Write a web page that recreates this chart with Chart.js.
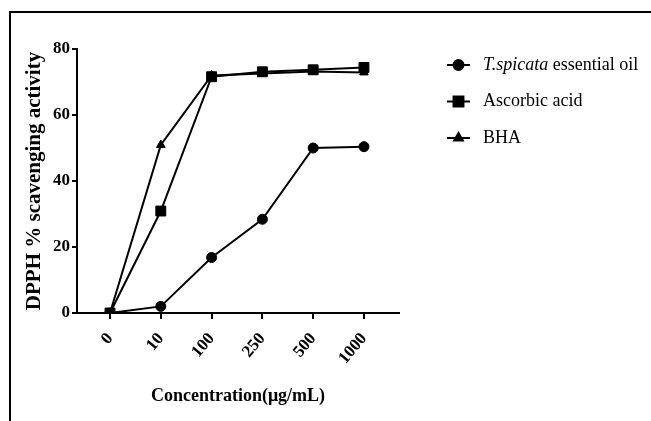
<!DOCTYPE html>
<html>
<head>
<meta charset="utf-8">
<script src="https://cdn.jsdelivr.net/npm/chart.js@4.4.1/dist/chart.umd.min.js"></script>
<style>
  body { margin: 0; background: #fff; }
  #wrap { position: relative; width: 651px; height: 421px; }
  #frame {
    position: absolute; left: 9px; top: 11px; right: 0; bottom: 0;
    border-top: 2px solid #000; border-left: 2px solid #000;
  }
  #chart { position: absolute; left: 0; top: 0; }
</style>
</head>
<body>
<div id="wrap">
  <div id="frame"></div>
  <canvas id="chart" width="651" height="421"></canvas>
</div>
<script>
// concentrations on the x axis (ug/mL)
const concentrations = ["0", "10", "100", "250", "500", "1000"];

// DPPH % scavenging activity
const spicataValues = [0, 2, 16.8, 28.4, 50, 50.4];
const ascorbicValues = [0, 30.9, 71.6, 73.1, 73.7, 74.4];
const bhaValues = [0, 50.9, 72, 72.6, 73.2, 72.9];

const seriesNames = ["T.spicata essential oil", "Ascorbic acid", "BHA"];
const italicParts = ["T.spicata", "", ""];
const yTicks = [0, 20, 40, 60, 80];

const serif = "'Liberation Serif', 'Times New Roman', serif";

function toPoints(values) {
  return values.map((v, i) => ({ x: i, y: v }));
}

function makeSet(label, values, style, radius) {
  return {
    label: label,
    data: toPoints(values),
    borderColor: "#000",
    backgroundColor: "#000",
    borderWidth: 2,
    pointStyle: style,
    pointRadius: radius,
    pointBorderWidth: 1,
    pointBackgroundColor: "#000",
    pointBorderColor: "#000",
    tension: 0,
  };
}

// legend drawn by hand so the species name can be italic
const sideLegend = {
  id: "sideLegend",
  afterDraw(chart) {
    const ctx = chart.ctx;
    const x0 = 447, x1 = 470, tx = 483;
    chart.data.datasets.forEach((ds, i) => {
      const y = 65 + i * 36.5;
      ctx.save();
      ctx.strokeStyle = "#000";
      ctx.fillStyle = "#000";
      ctx.lineWidth = 2;
      ctx.beginPath();
      ctx.moveTo(x0, y);
      ctx.lineTo(x1, y);
      ctx.stroke();
      Chart.helpers.drawPoint(ctx, {
        pointStyle: ds.pointStyle,
        radius: ds.pointRadius,
        rotation: 0,
        borderWidth: 1,
      }, (x0 + x1) / 2, y);
      ctx.textBaseline = "middle";
      ctx.textAlign = "left";
      const name = seriesNames[i];
      const ital = italicParts[i];
      let x = tx;
      if (ital) {
        ctx.font = "italic 18px " + serif;
        ctx.fillText(ital, x, y);
        x += ctx.measureText(ital).width;
      }
      ctx.font = "18px " + serif;
      ctx.fillText(name.slice(ital.length), x, y);
      ctx.restore();
    });
  },
};

new Chart(document.getElementById("chart"), {
  type: "line",
  data: {
    datasets: [
      makeSet(seriesNames[0], spicataValues, "circle", 5),
      makeSet(seriesNames[1], ascorbicValues, "rect", 7),
      makeSet(seriesNames[2], bhaValues, "triangle", 5),
    ],
  },
  options: {
    responsive: false,
    animation: false,
    layout: { padding: { top: 49, right: 252, left: 0, bottom: 0 } },
    plugins: { legend: { display: false }, tooltip: { enabled: false } },
    scales: {
      x: {
        type: "linear",
        min: -0.65,
        max: 5.69,
        afterBuildTicks: (axis) => {
          axis.ticks = concentrations.map((c, i) => ({ value: i }));
        },
        afterFit: (axis) => { axis.height = 108; },
        ticks: {
          autoSkip: false,
          minRotation: 50,
          maxRotation: 50,
          padding: 10,
          color: "#000",
          font: { family: serif, size: 17, weight: "bold" },
          callback: (v) => concentrations[v],
        },
        grid: {
          drawOnChartArea: false,
          drawTicks: true,
          tickLength: 6,
          color: "#000",
          lineWidth: 2,
        },
        border: { display: true, color: "#000", width: 2 },
        title: {
          display: true,
          text: "Concentration(μg/mL)",
          color: "#000",
          font: { family: serif, size: 18, weight: "bold" },
          padding: { top: 0, bottom: 14 },
        },
      },
      y: {
        min: 0,
        max: 80,
        afterBuildTicks: (axis) => {
          axis.ticks = yTicks.map((v) => ({ value: v }));
        },
        afterFit: (axis) => { axis.width = 77; },
        ticks: {
          padding: 2,
          color: "#000",
          font: { family: serif, size: 17, weight: "bold" },
        },
        grid: {
          drawOnChartArea: false,
          drawTicks: true,
          tickLength: 5,
          color: "#000",
          lineWidth: 2,
        },
        border: { display: true, color: "#000", width: 2 },
        title: {
          display: true,
          text: "DPPH % scavenging activity",
          color: "#000",
          font: { family: serif, size: 21, weight: "bold" },
          padding: { top: 22, bottom: 0 },
        },
      },
    },
  },
  plugins: [sideLegend],
});
</script>
</body>
</html>
